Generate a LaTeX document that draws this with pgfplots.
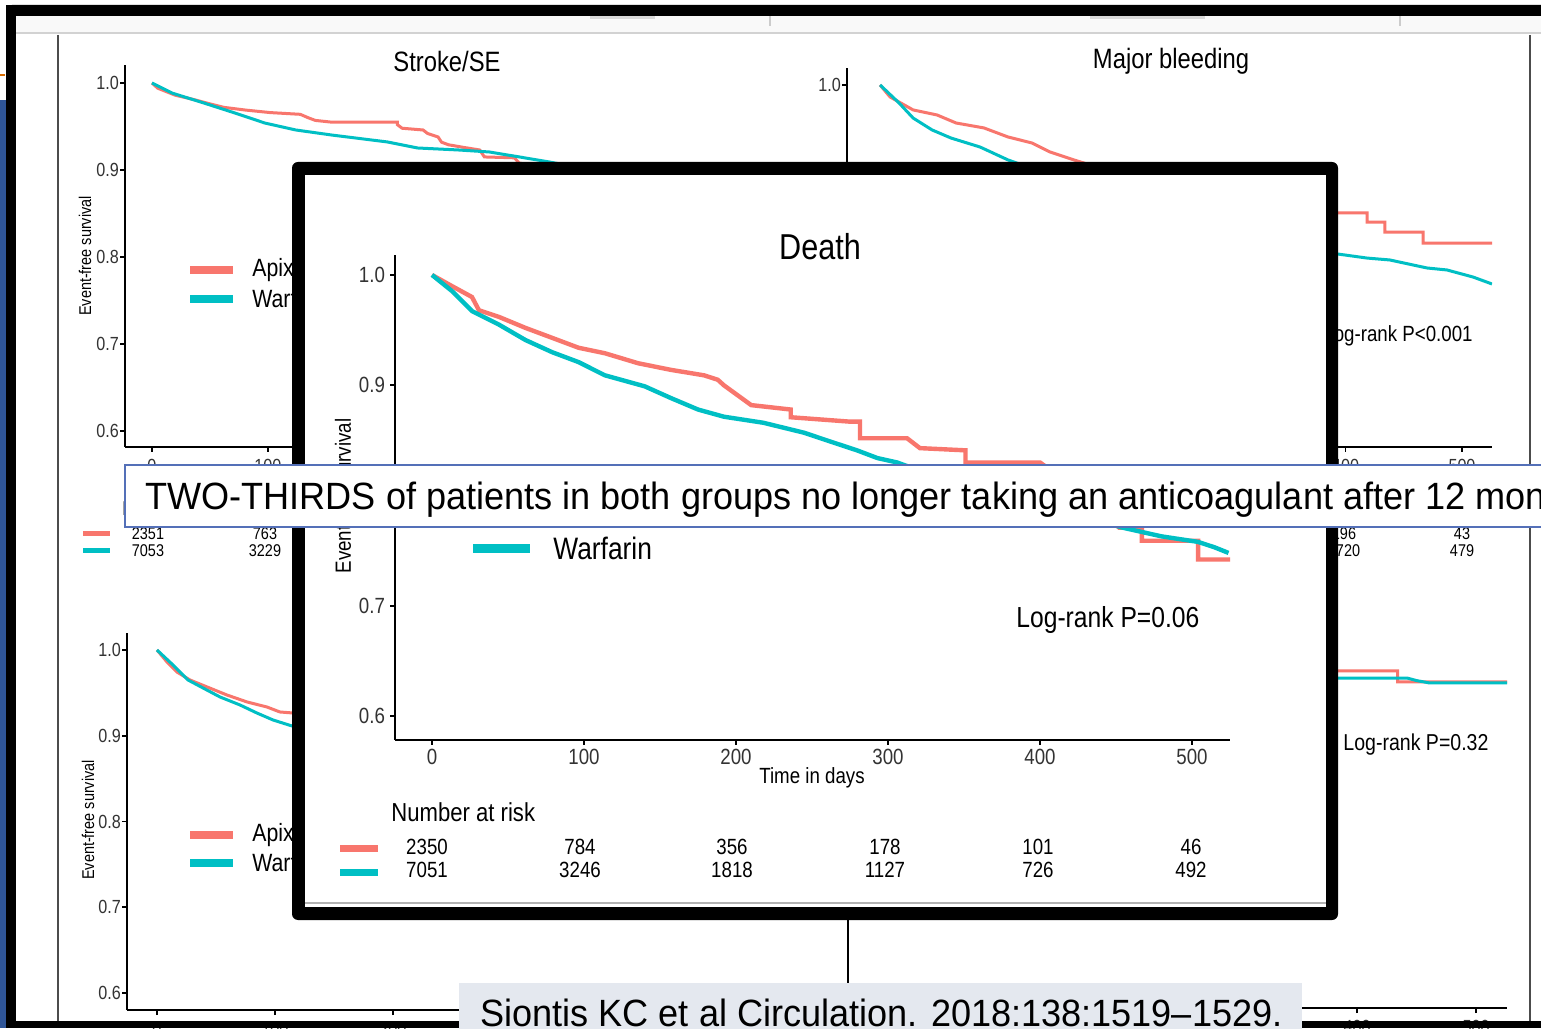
\documentclass[border=0pt]{standalone}
\usepackage{pgfplots}
\pgfplotsset{compat=1.18}
\usepackage{fontspec}
\setmainfont{Liberation Sans}
\newfontfamily\chartfont[FakeStretch=0.85]{Liberation Sans}
\newfontfamily\slidefont[FakeStretch=0.95]{Liberation Sans}
\newcommand{\cf}[1]{\chartfont\fontsize{#1}{#1}\selectfont}
\newcommand{\slf}[1]{\slidefont\fontsize{#1}{#1}\selectfont}
\definecolor{apx}{HTML}{F8766D}
\definecolor{war}{HTML}{00BFC4}
\definecolor{bannerblue}{HTML}{5470B8}
\definecolor{slideblue}{HTML}{2F5597}
\definecolor{citebg}{HTML}{E4E8EF}
\pgfplotsset{
  km/.style={
    scale only axis, anchor=south west,
    axis lines=left,
    axis line style={-, line width=0.9pt, black},
    tick align=outside,
    major tick length=2.5pt,
    tick style={black, line width=0.8pt},
    enlargelimits=false,
    xtick={0,100,200,300,400,500},
    ytick={0.6,0.7,0.8,0.9,1.0},
    /pgf/number format/assume math mode=true,
    yticklabel={\pgfmathprintnumber[fixed,fixed zerofill,precision=1]{\tick}},
    tick label style={text=black!80},
  },
  bg/.style={km, tick label style={font=\cf{9.5}}, yticklabel style={xshift=3pt}},
  dth/.style={km, tick label style={font=\cf{11}}, xticklabel style={yshift=1.5pt}, yticklabel style={xshift=1pt}},
}
\begin{document}
\begin{tikzpicture}
\useasboundingbox (0,0) rectangle (770.5pt,514pt);
\clip (0,0) rectangle (770.5pt,514pt);
% ---------- slide background ----------
\begin{scope}[x=0.5pt,y=0.5pt]
  \fill[white] (0,0) rectangle (1541,1028);
  \fill[slideblue] (0,0) rectangle (7,928);
  \draw[orange!85!black, line width=1pt] (0,953) -- (5,953);
  \fill[gray!5] (16,995) rectangle (1541,1012);
  \draw[gray!35, line width=1.2pt] (16,995) -- (1541,995);
  \draw[gray!30, line width=2pt] (590,1011) -- (655,1011);
  \draw[gray!30, line width=2pt] (1090,1011) -- (1205,1011);
  \draw[gray!40, line width=0.6pt] (770,1012) -- (770,1002);
  \draw[gray!40, line width=0.6pt] (1400,1012) -- (1400,1002);
  \draw[black!70, line width=0.9pt] (58,993) -- (58,7);
  \draw[black!70, line width=0.9pt] (1530,993) -- (1530,7);
\end{scope}
% ---------- Stroke/SE (top left) ----------
\begin{axis}[bg, at={(62.5pt,290.5pt)}, width=318pt, height=191pt,
  xmin=-23.3, xmax=525.9, ymin=0.5816, ymax=1.0207]
\addplot[apx, line width=1.5pt] coordinates {(0,1) (5,0.994) (20,0.986) (36,0.981) (50,0.976) (62,0.972) (80,0.969) (102,0.966) (128,0.964) (135,0.960) (141,0.957) (155,0.955) (212,0.955) (212,0.952) (216,0.948) (234,0.946) (238,0.942) (247,0.938) (250,0.932) (256,0.929) (269,0.926) (283,0.923) (287,0.915) (313,0.914) (317,0.908) (350,0.900) (400,0.885) (450,0.875) (526,0.870)};
\addplot[war, line width=1.5pt] coordinates {(0,1) (17.2,0.9885) (44.8,0.977) (71.6,0.9655) (97.4,0.954) (124.1,0.946) (155.2,0.9402) (203.4,0.9322) (229.3,0.9253) (264.7,0.923) (291.4,0.9207) (317.2,0.915) (344,0.909) (400,0.895) (450,0.885) (526,0.875)};
\end{axis}
% ---------- Major bleeding (top right) ----------
\begin{axis}[bg, at={(423.5pt,290.5pt)}, width=322.5pt, height=189.5pt,
  xmin=-28.4, xmax=525.8, ymin=0.584, ymax=1.0195]
\addplot[apx, line width=1.5pt] coordinates {(0,1) (8.6,0.9862) (28.4,0.9713) (49,0.9655) (65.3,0.9563) (89.3,0.9506) (110,0.9402) (130.6,0.9333) (146,0.923) (166.7,0.9138) (200,0.90) (250,0.885) (330,0.865) (393.5,0.8529) (418.4,0.8529) (418.4,0.8425) (433.8,0.8425) (433.8,0.831) (466.5,0.831) (466.5,0.8184) (525.8,0.8184)};
\addplot[war, line width=1.5pt] coordinates {(0,1) (16.3,0.9793) (28.4,0.962) (44.7,0.9483) (61,0.939) (85.9,0.9287) (110,0.9138) (150,0.895) (200,0.875) (250,0.855) (300,0.835) (350,0.818) (393.5,0.8057) (418.4,0.8011) (438,0.7989) (469.9,0.7897) (487.1,0.7874) (509.5,0.7793) (525.8,0.7713)};
\end{axis}
% ---------- bottom left ----------
\begin{axis}[bg, at={(63.5pt,9pt)}, width=325.5pt, height=188.5pt,
  xmin=-25.4, xmax=526.3, ymin=0.5802, ymax=1.0198]
\addplot[apx, line width=1.5pt] coordinates {(0,1) (8.5,0.986) (16.9,0.9743) (28,0.965) (42.4,0.9569) (59.3,0.9475) (76.3,0.9394) (93.2,0.9335) (104.2,0.9277) (115.3,0.9265) (200,0.91) (300,0.895) (400,0.885) (526,0.88)};
\addplot[war, line width=1.5pt] coordinates {(0,1) (13.6,0.9825) (26.3,0.965) (39,0.9557) (53.4,0.9452) (70.3,0.9359) (84.7,0.9265) (98.3,0.9184) (114.4,0.9114) (200,0.89) (300,0.875) (400,0.865) (526,0.855)};
\end{axis}
% ---------- bottom right ----------
\begin{axis}[bg, at={(424pt,10pt)}, width=329.5pt, height=187.5pt,
  xmin=-27.7, xmax=526, ymin=0.5802, ymax=1.0175]
\addplot[apx, line width=1.5pt] coordinates {(0,1) (50,0.99) (150,0.982) (300,0.976) (384,0.9732) (434,0.9732) (434,0.9604) (526,0.9604)};
\addplot[war, line width=1.5pt] coordinates {(0,1) (50,0.99) (150,0.98) (300,0.97) (384,0.965) (442,0.965) (450,0.962) (461,0.9592) (526,0.9592)};
\end{axis}
% ---------- background texts ----------
\begin{scope}[x=0.5pt,y=0.5pt]
  \node[font=\cf{14}, anchor=base] at (447,956) {Stroke/SE};
  \node[font=\cf{14}, anchor=base] at (1171,959) {Major bleeding};
  \node[font=\cf{8.5}, rotate=90] at (85,772) {Event-free survival};
  \node[font=\cf{8.5}, rotate=90] at (88,208) {Event-free survival};
  \draw[apx, line width=4pt] (190,758) -- (233,758);
  \draw[war, line width=4pt] (190,729) -- (233,729);
  \node[font=\cf{12.5}, anchor=west, inner sep=0] at (252,758) {Apixaban};
  \node[font=\cf{12.5}, anchor=west, inner sep=0] at (252,729) {Warfarin};
  \draw[apx, line width=4pt] (190,193) -- (233,193);
  \draw[war, line width=4pt] (190,165) -- (233,165);
  \node[font=\cf{12.5}, anchor=west, inner sep=0] at (252,193) {Apixaban};
  \node[font=\cf{12.5}, anchor=west, inner sep=0] at (252,165) {Warfarin};
  \node[font=\cf{11}, anchor=east, inner sep=0] at (1473,692) {Log-rank P<0.001};
  \node[font=\cf{11.5}, anchor=west, inner sep=0] at (1343,283) {Log-rank P=0.32};
  \node[font=\cf{10}, anchor=west, inner sep=0] at (122,520) {Number at risk};
  \draw[apx, line width=2.5pt] (83,494) -- (110,494);
  \draw[war, line width=2.5pt] (83,477) -- (110,477);
  \node[font=\cf{8.5}, inner sep=0] at (148,494) {2351};
  \node[font=\cf{8.5}, inner sep=0] at (148,477) {7053};
  \node[font=\cf{8.5}, inner sep=0] at (265,494) {763};
  \node[font=\cf{8.5}, inner sep=0] at (265,477) {3229};
  \node[font=\cf{8.5}, inner sep=0] at (1344,494) {196};
  \node[font=\cf{8.5}, inner sep=0] at (1344,477) {1720};
  \node[font=\cf{8.5}, inner sep=0] at (1462,494) {43};
  \node[font=\cf{8.5}, inner sep=0] at (1462,477) {479};
\end{scope}
% ---------- overlay box ----------
\begin{scope}[x=0.5pt,y=0.5pt]
  \fill[black, rounded corners=3pt] (292,108) rectangle (1338,866);
  \fill[white] (305,121) rectangle (1326,853);
  \draw[gray!60, line width=1pt] (305,125) -- (1326,125);
\end{scope}
% ---------- Death ----------
\begin{axis}[dth, at={(197.5pt,144pt)}, width=417.5pt, height=242.5pt,
  xmin=-24.34, xmax=525.0, ymin=0.5784, ymax=1.0181]
\addplot[apx, line width=2.2pt] coordinates {(0,1.000) (13,0.990) (26.3,0.980) (30.9,0.968) (44,0.962) (61.5,0.952) (79,0.943) (96.4,0.934) (113.8,0.929) (135.5,0.920) (157,0.914) (179,0.909) (188,0.905) (192,0.900) (200,0.892) (210,0.882) (236,0.878) (236,0.871) (275,0.867) (281.6,0.867) (281.6,0.852) (312.5,0.852) (321,0.843) (351,0.841) (351,0.830) (400,0.830) (425,0.805) (452,0.771) (467,0.771) (467,0.759) (504,0.759) (504,0.742) (525,0.742)};
\addplot[war, line width=2.2pt] coordinates {(0,1) (13.5,0.985) (26.6,0.967) (44,0.955) (61.5,0.941) (79,0.930) (96.4,0.921) (113.8,0.909) (140,0.899) (157,0.8885) (175,0.878) (192,0.8715) (218,0.866) (244.7,0.857) (262,0.849) (279.6,0.841) (293,0.834) (306,0.830) (330,0.818) (360,0.805) (390,0.795) (420,0.785) (454,0.771) (480,0.763) (504,0.758) (515,0.753) (524,0.748)};
\end{axis}
% ---------- Death texts ----------
\begin{scope}[x=0.5pt,y=0.5pt]
  \node[font=\cf{18}, anchor=base] at (820,768) {Death};
  \node[font=\cf{11}, rotate=90] at (343,532) {Event-free survival};
  \draw[apx, line width=4.5pt] (473,518) -- (530,518);
  \draw[war, line width=4.5pt] (473,479) -- (530,479);
  \node[font=\cf{15.5}, anchor=base west, inner sep=0] at (553,508) {Apixaban};
  \node[font=\cf{15.5}, anchor=base west, inner sep=0] at (553,468) {Warfarin};
  \node[font=\cf{14.5}, anchor=base west, inner sep=0] at (1016,400) {Log-rank P=0.06};
  \node[font=\cf{11}, anchor=base] at (812,244) {Time in days};
  \node[font=\cf{13}, anchor=base west, inner sep=0] at (391,206) {Number at risk};
  \draw[apx, line width=3.5pt] (340,179) -- (378,179);
  \draw[war, line width=3.5pt] (340,156) -- (378,156);
  \node[font=\cf{11}, anchor=base] at (427,173) {2350};
  \node[font=\cf{11}, anchor=base] at (580,173) {784};
  \node[font=\cf{11}, anchor=base] at (732,173) {356};
  \node[font=\cf{11}, anchor=base] at (885,173) {178};
  \node[font=\cf{11}, anchor=base] at (1038,173) {101};
  \node[font=\cf{11}, anchor=base] at (1191,173) {46};
  \node[font=\cf{11}, anchor=base] at (427,150) {7051};
  \node[font=\cf{11}, anchor=base] at (580,150) {3246};
  \node[font=\cf{11}, anchor=base] at (732,150) {1818};
  \node[font=\cf{11}, anchor=base] at (885,150) {1127};
  \node[font=\cf{11}, anchor=base] at (1038,150) {726};
  \node[font=\cf{11}, anchor=base] at (1191,150) {492};
\end{scope}
% ---------- frame, banner, citation ----------
\begin{scope}[x=0.5pt,y=0.5pt]
  \fill[black] (6,0) rectangle (16,1023);
  \fill[black, rounded corners=3pt] (6,1012) rectangle (1560,1023);
  \fill[black] (6,0) rectangle (1541,7);
  \filldraw[fill=white, draw=bannerblue, line width=0.8pt] (125,501) rectangle (1560,563);
  \node[font=\slf{19}, anchor=base west, inner sep=0] at (145,518) {TWO-THIRDS of patients in both groups no longer taking an anticoagulant after 12 months};
  \fill[citebg] (459,-5) rectangle (1302,45);
  \node[font=\slf{19}, anchor=base west, inner sep=0] at (480,2) {Siontis KC et al Circulation. 2018:138:1519–1529.};
\end{scope}
\end{tikzpicture}
\end{document}
